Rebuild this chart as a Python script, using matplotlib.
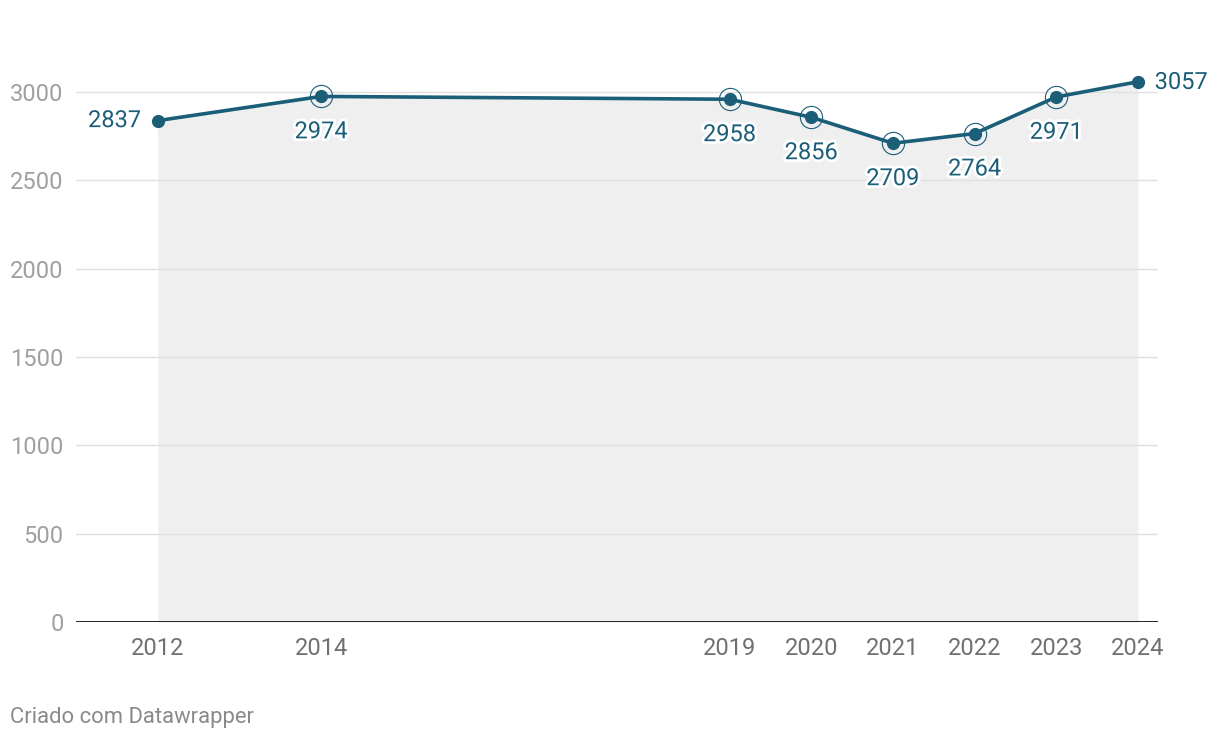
import matplotlib.pyplot as plt
import matplotlib.patheffects as pe

plt.rcParams['font.family'] = ['Roboto', 'DejaVu Sans']

years = [2012, 2014, 2019, 2020, 2021, 2022, 2023, 2024]
values = [2837, 2974, 2958, 2856, 2709, 2764, 2971, 3057]
ringed = [2014, 2019, 2020, 2021, 2022, 2023]
yticks = [0, 500, 1000, 1500, 2000, 2500, 3000]

line_color = '#1b5e78'

fig = plt.figure(figsize=(12.2, 7.38), dpi=100)
ax = fig.add_axes([0.0623, 0.157, 0.8869, 0.7617])

ax.fill_between(years, values, 0, color='#efefef', zorder=1, linewidth=0)
for y in yticks[1:]:
    ax.axhline(y, color='#e0e0e0', linewidth=1, zorder=2)
ax.axhline(0, color='#111111', linewidth=2, zorder=3)

ax.plot(years, values, color=line_color, linewidth=2.6, zorder=4,
        marker='o', markersize=8.5, solid_capstyle='round')
for yr, v in zip(years, values):
    if yr in ringed:
        ax.plot(yr, v, marker='o', markersize=16, markerfacecolor='none',
                markeredgecolor=line_color, markeredgewidth=0.8, zorder=4)

stroke = [pe.withStroke(linewidth=4, foreground='white')]
fs = 17
for yr, v in zip(years, values):
    if yr == 2012:
        ax.annotate(str(v), (yr, v), xytext=(-12, 0), textcoords='offset points',
                    ha='right', va='center', fontsize=fs, color=line_color,
                    path_effects=stroke, zorder=5)
    elif yr == 2024:
        ax.annotate(str(v), (yr, v), xytext=(12, -0.5), textcoords='offset points',
                    ha='left', va='center', fontsize=fs, color=line_color,
                    path_effects=stroke, zorder=5)
    else:
        ax.annotate(str(v), (yr, v), xytext=(0, -25.5), textcoords='offset points',
                    ha='center', va='center', fontsize=fs, color=line_color,
                    path_effects=stroke, zorder=5)

ax.set_xlim(2011.0, 2024.245)
ax.set_ylim(0, 3180)
ax.set_xticks(years)
ax.set_xticklabels([str(y) for y in years], fontsize=17, color='#707070')
ax.set_yticks(yticks)
ax.set_yticklabels([str(y) for y in yticks], fontsize=17, color='#a0a0a0')
ax.tick_params(axis='both', length=0)
ax.tick_params(axis='x', pad=11)
ax.tick_params(axis='y', pad=9)
for s in ax.spines.values():
    s.set_visible(False)

fig.text(0.008, 0.021, 'Criado com Datawrapper', fontsize=15.8, color='#8a8a8a')

fig.savefig('out.png', dpi=100)
